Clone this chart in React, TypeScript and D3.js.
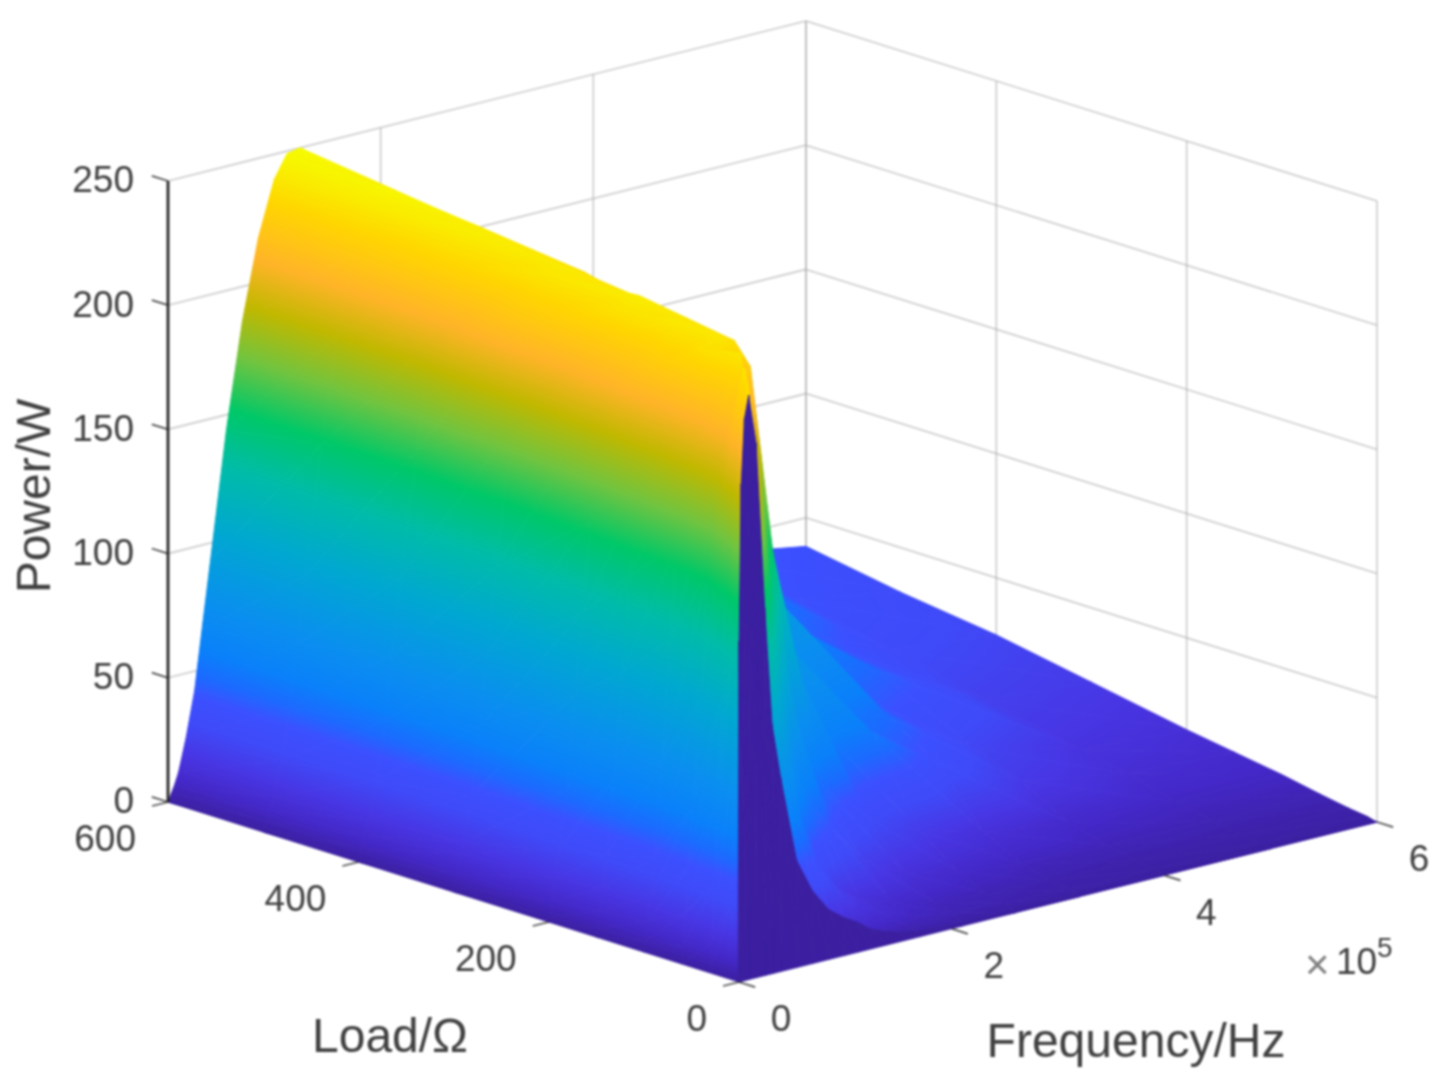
import * as d3 from "d3";

// frequency columns (x 1e5 Hz), load rows (ohm)
const freqs = [0, 0.01, 0.03, 0.06, 0.1, 0.17, 0.25, 0.32, 0.4, 0.55, 0.7, 0.85, 1, 1.12, 1.24, 1.4, 1.7, 2.1, 2.6, 3.2, 4, 5, 6];
const loads = [0, 1, 10, 30, 60, 100, 150, 200, 300, 400, 500, 600];

// power in W for each load row
const power0 = [0, 0, 0, 0, 0, 0, 0, 0, 0, 0, 0, 0, 0, 0, 0, 0, 0, 0, 0, 0, 0, 0, 0];
const power1 = [0, 137, 200, 226, 235, 215, 148, 100, 78, 43, 29, 20, 15, 12, 8, 5, 2, 1, 0, 0, 0, 0, 0];
const power10 = [0, 30, 85, 150, 205, 238, 205, 165, 125, 75, 50, 35, 26, 20, 16, 12, 7, 4, 3, 2, 1, 1, 1];
const power30 = [0, 12, 35, 68, 110, 175, 225, 240, 222, 130, 72, 45, 32, 25, 20, 15, 10, 6, 4, 3, 2, 2, 2];
const power60 = [0, 7, 20, 38, 62, 105, 155, 190, 220, 240, 200, 118, 80, 60, 50, 40, 24, 14, 9, 6, 5, 4, 4];
const power100 = [0, 4, 12, 22, 37, 75, 123, 161, 196, 237, 241, 237, 225, 150, 105, 64, 48, 32, 21, 14, 9, 7, 7];
const power150 = [0, 3, 10, 19, 32, 63, 104, 142, 175, 225, 241, 240, 235, 230, 216, 190, 105, 62, 54, 36, 20, 12, 10];
const power200 = [0, 2, 8, 17, 28, 51, 89, 121, 157, 207, 238, 243, 238, 234, 226, 208, 165, 95, 58, 48, 27, 16, 13];
const power300 = [0, 2, 7, 15, 19, 37, 64, 93, 126, 181, 225, 240, 242, 239, 236, 222, 185, 155, 110, 56, 46, 24, 20];
const power400 = [0, 1, 5, 10, 16, 31, 54, 80, 110, 160, 202, 231, 244, 244, 240, 228, 190, 160, 125, 80, 50, 32, 27];
const power500 = [0, 1, 4, 8, 13, 27, 47, 72, 99, 150, 192, 224, 243, 248, 245, 238, 195, 160, 125, 92, 67, 40, 32];
const power600 = [0, 1, 3, 6, 11, 24, 42, 66, 93, 144, 186, 218, 240, 249, 250, 243, 205, 170, 135, 105, 75, 46, 38.5];
const powerRows = [power0, power1, power10, power30, power60, power100, power150, power200, power300, power400, power500, power600];

const powerTicks = [0, 50, 100, 150, 200, 250];
const loadTicks = [0, 200, 400, 600];
const freqTicks = [0, 2, 4, 6];

// colormap as it looks in the picture
const colorPower = [0, 8, 18, 30, 40, 48, 58, 75, 105, 130, 152, 172, 192, 210, 232, 250];
const colorHex = ["#3b1fa0", "#4428c8", "#4836e4", "#3f4af8", "#3c50ff", "#1c6aff", "#0a80fa", "#0a8ef0", "#00a8d0", "#00bca8", "#00c868", "#70c440", "#c0b800", "#ffb428", "#ffd600", "#f6fb00"];

const width = 1443;
const height = 1078;
const zMax = 250;
const origin = { x: 739, y: 982 };

// oblique projection: the three axes just add up on screen
const freqX = d3.scaleLinear().domain([0, 6]).range([0, 638]);
const freqY = d3.scaleLinear().domain([0, 6]).range([0, -160]);
const loadX = d3.scaleLinear().domain([0, 600]).range([0, -571]);
const loadY = d3.scaleLinear().domain([0, 600]).range([0, -180]);
const powerY = d3.scaleLinear().domain([0, zMax]).range([0, -621]);

const project = (f: number, r: number, z: number): [number, number] => [
  origin.x + freqX(f) + loadX(r),
  origin.y + freqY(f) + loadY(r) + powerY(z),
];

const colorScale = d3.scaleLinear<string>().domain(colorPower).range(colorHex).interpolate(d3.interpolateRgb);
const triPath = d3.line().curve(d3.curveLinearClosed);

interface Tri {
  id: string;
  d: string;
  paint: string;
  grad?: { x1: number; y1: number; x2: number; y2: number };
}

type V = { p: [number, number]; z: number };

// one triangle of the mesh: z is linear on it, so a single gradient along
// its screen-space z direction gives the interpolated shading
function makeTri(id: string, a: V, b: V, c: V, flat: boolean): Tri {
  const d = triPath([a.p, b.p, c.p]) ?? "";
  if (flat) return { id, d, paint: colorScale(0) };
  const dx1 = b.p[0] - a.p[0];
  const dy1 = b.p[1] - a.p[1];
  const dx2 = c.p[0] - a.p[0];
  const dy2 = c.p[1] - a.p[1];
  const det = dx1 * dy2 - dx2 * dy1;
  const dz1 = b.z - a.z;
  const dz2 = c.z - a.z;
  if (Math.abs(det) < 0.2) return { id, d, paint: colorScale((a.z + b.z + c.z) / 3) };
  const gx = (dz1 * dy2 - dz2 * dy1) / det;
  const gy = (dz2 * dx1 - dz1 * dx2) / det;
  const g2 = gx * gx + gy * gy;
  if (g2 < 1e-7) return { id, d, paint: colorScale((a.z + b.z + c.z) / 3) };
  return {
    id,
    d,
    paint: `url(#${id})`,
    grad: {
      x1: a.p[0] + (gx * (0 - a.z)) / g2,
      y1: a.p[1] + (gy * (0 - a.z)) / g2,
      x2: a.p[0] + (gx * (zMax - a.z)) / g2,
      y2: a.p[1] + (gy * (zMax - a.z)) / g2,
    },
  };
}

function buildMesh(): Tri[] {
  const tris: Tri[] = [];
  const vert = (i: number, j: number): V => ({
    p: project(freqs[j], loads[i], powerRows[i][j]),
    z: powerRows[i][j],
  });
  // painter's order, far corner first
  for (let i = loads.length - 2; i >= 0; i--) {
    for (let j = freqs.length - 2; j >= 0; j--) {
      const a = vert(i, j);
      const b = vert(i, j + 1);
      const c = vert(i + 1, j + 1);
      const e = vert(i + 1, j);
      // the strip next to zero load stays dark in the picture
      const flat = i === 0;
      tris.push(makeTri(`t${i}-${j}-a`, e, c, b, flat));
      tris.push(makeTri(`t${i}-${j}-b`, e, b, a, flat));
    }
  }
  return tris;
}

const textColor = "#404040";
const gridStyle = { stroke: "#a8a8a8", strokeOpacity: 0.6, strokeWidth: 1.6 };

function Seg({ a, b, ...rest }: { a: [number, number]; b: [number, number]; [k: string]: any }) {
  return <line x1={a[0]} y1={a[1]} x2={b[0]} y2={b[1]} {...rest} />;
}

export default function App() {
  const mesh = buildMesh();
  const fMax = 6;
  const rMax = 600;
  return (
    <svg
      width={width}
      height={height}
      viewBox={`0 0 ${width} ${height}`}
      style={{ position: "absolute", left: 0, top: 0, background: "#fff", filter: "blur(0.8px)" }}
      fontFamily="'Liberation Sans', Arial, sans-serif"
    >
      <defs>
        <linearGradient id="ramp" gradientUnits="userSpaceOnUse">
          {colorPower.map((z, i) => (
            <stop key={z} offset={z / zMax} stopColor={colorHex[i]} />
          ))}
        </linearGradient>
        {mesh
          .filter((t) => t.grad)
          .map((t) => (
            <linearGradient key={t.id} id={t.id} href="#ramp" gradientUnits="userSpaceOnUse" {...t.grad} />
          ))}
      </defs>

      {/* walls */}
      <g>
        {powerTicks.map((z) => (
          <g key={z}>
            <Seg a={project(0, rMax, z)} b={project(fMax, rMax, z)} {...gridStyle} />
            <Seg a={project(fMax, rMax, z)} b={project(fMax, 0, z)} {...gridStyle} />
          </g>
        ))}
        {freqTicks.slice(1).map((f) => (
          <Seg key={f} a={project(f, rMax, 0)} b={project(f, rMax, zMax)} {...gridStyle} />
        ))}
        {loadTicks.slice(0, 3).map((r) => (
          <Seg key={r} a={project(fMax, r, 0)} b={project(fMax, r, zMax)} {...gridStyle} />
        ))}
        <Seg a={project(fMax, rMax, 0)} b={project(fMax, rMax, zMax)} {...gridStyle} />
      </g>

      {/* surface */}
      <g strokeWidth={0.9} strokeLinejoin="round">
        {mesh.map((t) => (
          <path key={t.id} d={t.d} fill={t.paint} stroke={t.paint} />
        ))}
      </g>

      {/* axes */}
      <g stroke="#262626" fill="none">
        <Seg a={project(0, rMax, 0)} b={project(0, rMax, zMax)} strokeWidth={2.8} />
        {powerTicks.map((z) => (
          <Seg key={z} a={project(0, rMax, z)} b={project(0, rMax + 17, z)} strokeWidth={1.8} strokeOpacity={0.8} />
        ))}
        {loadTicks.map((r) => (
          <Seg key={r} a={project(0, r, 0)} b={project(-0.15, r, 0)} strokeWidth={1.8} strokeOpacity={0.8} />
        ))}
        {freqTicks.map((f) => (
          <Seg key={f} a={project(f, 0, 0)} b={project(f, -17, 0)} strokeWidth={1.8} strokeOpacity={0.8} />
        ))}
      </g>

      {/* tick labels */}
      <g fill={textColor} fontSize={37}>
        {powerTicks.map((z) => {
          const [x, y] = project(0, rMax, z);
          return (
            <text key={z} x={x - 34} y={y - 2} dy="0.36em" textAnchor="end">
              {z}
            </text>
          );
        })}
        {loadTicks.map((r) => {
          const [x, y] = project(0, r, 0);
          return (
            <text key={r} x={x - 32} y={y + 36} dy="0.36em" textAnchor="end">
              {r}
            </text>
          );
        })}
        {freqTicks.map((f) => {
          const [x, y] = project(f, 0, 0);
          return (
            <text key={f} x={x + 42} y={y + 36} dy="0.36em" textAnchor="middle">
              {f}
            </text>
          );
        })}
        <text x={1305} y={979} fontSize={42} fill="#808080">×</text>
        <text x={1336} y={974}>10</text>
        <text x={1377} y={957} fontSize={28}>5</text>
      </g>

      {/* axis labels */}
      <g fill={textColor} fontSize={48}>
        <text transform="translate(50,496) rotate(-90)" textAnchor="middle">Power/W</text>
        <text x={390} y={1052} textAnchor="middle">Load/Ω</text>
        <text x={1136} y={1057} textAnchor="middle">Frequency/Hz</text>
      </g>
    </svg>
  );
}
